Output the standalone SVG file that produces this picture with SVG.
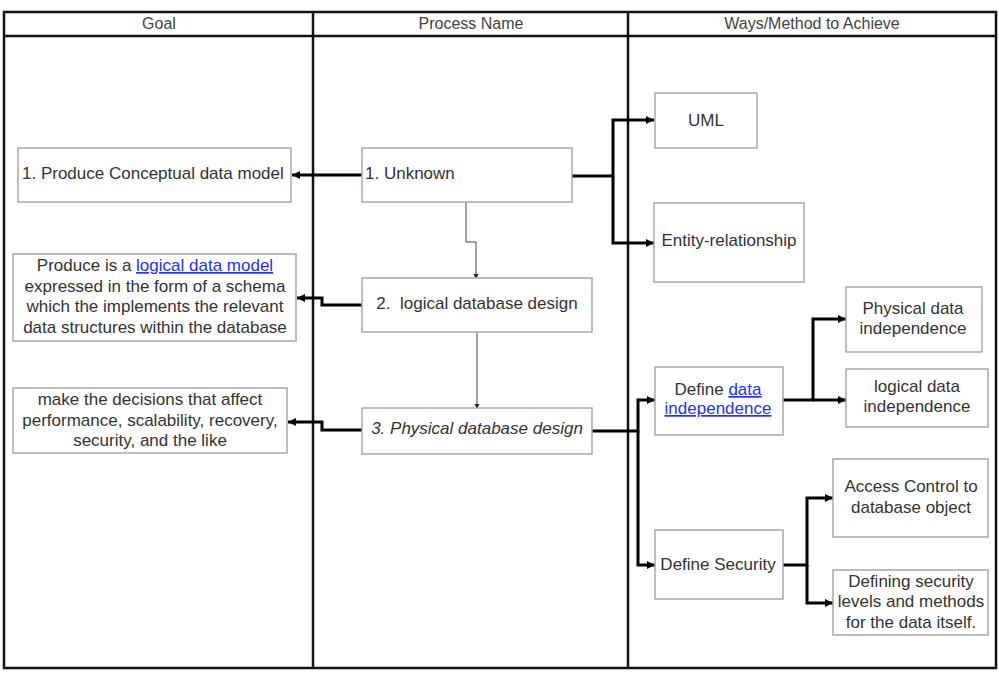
<svg xmlns="http://www.w3.org/2000/svg" width="999" height="673" viewBox="0 0 999 673">
<style>
text{font-family:"Liberation Sans",Arial,sans-serif;fill:#333;font-size:17px}
.hd{font-size:16px;fill:#444;text-anchor:middle}
.m{text-anchor:middle}
.box{fill:#fff;stroke:#a8a8a8;stroke-width:1.5}
.tbl{fill:none;stroke:#111;stroke-width:2.5}
.c{fill:none;stroke:#000;stroke-width:3;marker-end:url(#ah)}
.t{fill:none;stroke:#444;stroke-width:1;marker-end:url(#as)}
.lk{fill:#2233ee;text-decoration:underline}
</style>
<defs>
<marker id="ah" markerUnits="userSpaceOnUse" markerWidth="10" markerHeight="10" refX="8" refY="4" orient="auto"><path d="M0,0 L8,4 L0,8 Z" fill="#000"/></marker>
<marker id="as" markerUnits="userSpaceOnUse" markerWidth="6" markerHeight="6" refX="4" refY="2.5" orient="auto"><path d="M0,0 L5,2.5 L0,5 Z" fill="#222"/></marker>
</defs>
<rect width="999" height="673" fill="#fff"/>
<g id="table">
<rect class="tbl" x="4" y="12" width="992" height="656"/>
<line class="tbl" x1="4" y1="36" x2="996" y2="36"/>
<line class="tbl" x1="313" y1="12" x2="313" y2="668"/>
<line class="tbl" x1="628" y1="12" x2="628" y2="668"/>
<text class="hd" x="159" y="29">Goal</text>
<text class="hd" x="471" y="29">Process Name</text>
<text class="hd" x="812" y="29">Ways/Method to Achieve</text>
</g>
<g id="connectors">
<path class="c" d="M362,175 H292"/>
<path class="c" d="M362,305 H322 V298 H297"/>
<path class="c" d="M362,430 H322 V422 H288"/>
<path class="c" d="M572,176 H613 V120 H654"/>
<path class="c" d="M613,176 V243 H654"/>
<path class="c" d="M592,431 H638 V400 H655"/>
<path class="c" d="M638,431 V565 H655"/>
<path class="c" d="M783,400 H813 V319 H846"/>
<path class="c" d="M813,400 H846"/>
<path class="c" d="M783,565 H807 V498 H833"/>
<path class="c" d="M807,565 V603 H833"/>
<path class="t" d="M466,202 V242 H476 V278"/>
<path class="t" d="M477,332 V408"/>
</g>
<g id="goal1"><rect class="box" x="18" y="148" width="273" height="54"/><text x="22" y="179">1. Produce Conceptual data model</text></g>
<g id="goal2"><rect class="box" x="13" y="254" width="283" height="87"/>
<text class="m" x="155" y="271">Produce is a <tspan class="lk">logical data model</tspan></text>
<text class="m" x="155" y="291.5">expressed in the form of a schema</text>
<text class="m" x="155" y="312">which the implements the relevant</text>
<text class="m" x="155" y="332.5">data structures within the database</text></g>
<g id="goal3"><rect class="box" x="13" y="388" width="274" height="65"/>
<text class="m" x="150" y="405">make the decisions that affect</text>
<text class="m" x="150" y="426">performance, scalability, recovery,</text>
<text class="m" x="150" y="446">security, and the like</text></g>
<g id="proc1"><rect class="box" x="362" y="148" width="210" height="54"/><text x="365" y="179">1. Unknown</text></g>
<g id="proc2"><rect class="box" x="362" y="278" width="230" height="54"/><text class="m" x="477" y="309" xml:space="preserve">2.  logical database design</text></g>
<g id="proc3"><rect class="box" x="362" y="408" width="230" height="46"/><text class="m" x="477" y="434" font-style="italic">3. Physical database design</text></g>
<g id="uml"><rect class="box" x="655" y="93" width="102" height="55"/><text class="m" x="706" y="126">UML</text></g>
<g id="er"><rect class="box" x="654" y="203" width="150" height="79"/><text class="m" x="729" y="246">Entity-relationship</text></g>
<g id="dind"><rect class="box" x="655" y="367" width="128" height="68"/>
<text class="m" x="718" y="395">Define <tspan class="lk">data</tspan></text>
<text class="m lk" x="718" y="414">independence</text></g>
<g id="pdi"><rect class="box" x="846" y="287" width="136" height="65"/>
<text class="m" x="913" y="314">Physical data</text><text class="m" x="913" y="334">independence</text></g>
<g id="ldi"><rect class="box" x="846" y="369" width="142" height="58"/>
<text class="m" x="917" y="392">logical data</text><text class="m" x="917" y="412">independence</text></g>
<g id="dsec"><rect class="box" x="655" y="530" width="128" height="69"/><text class="m" x="718" y="570">Define Security</text></g>
<g id="acc"><rect class="box" x="833" y="459" width="155" height="78"/>
<text class="m" x="911" y="492">Access Control to</text><text class="m" x="911" y="513">database object</text></g>
<g id="defsec"><rect class="box" x="833" y="570" width="155" height="65"/>
<text class="m" x="911" y="587">Defining security</text><text class="m" x="911" y="607">levels and methods</text><text class="m" x="911" y="628">for the data itself.</text></g>
</svg>
